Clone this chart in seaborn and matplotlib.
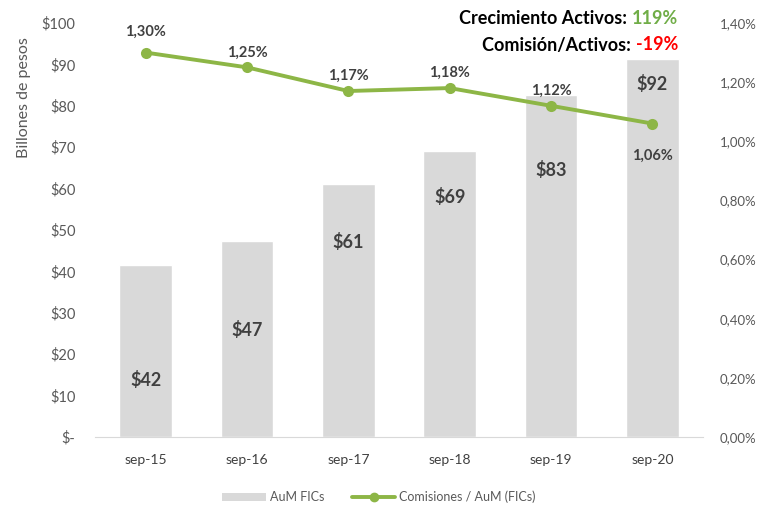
import matplotlib
matplotlib.use('Agg')
import matplotlib.pyplot as plt
import seaborn as sns
import pandas as pd
from matplotlib.patches import Patch
from matplotlib.lines import Line2D

# Data
periods = ['sep-15', 'sep-16', 'sep-17', 'sep-18', 'sep-19', 'sep-20']
aum = [41.5, 47.3, 61.1, 69.1, 82.6, 91.3]
aum_labels = ['$42', '$47', '$61', '$69', '$83', '$92']
aum_label_y = [13.8, 25.8, 47.0, 58.0, 64.5, 85.3]
comision = [1.30, 1.25, 1.17, 1.18, 1.12, 1.06]
comision_labels = ['1,30%', '1,25%', '1,17%', '1,18%', '1,12%', '1,06%']
comision_label_y = [1.37, 1.30, 1.22, 1.23, 1.17, 0.95]

left_ticks = [0, 10, 20, 30, 40, 50, 60, 70, 80, 90, 100]
left_tick_labels = ['$-'] + [f'${v}' for v in left_ticks[1:]]
right_ticks = [0, 0.2, 0.4, 0.6, 0.8, 1.0, 1.2, 1.4]
right_tick_labels = [f'{v:.2f}%'.replace('.', ',') for v in right_ticks]

df = pd.DataFrame({'periodo': periods, 'aum': aum, 'comision': comision})

sns.set_style('white')
plt.rcParams['font.family'] = ['Lato', 'DejaVu Sans']

bar_color = '#D9D9D9'
line_color = '#8DB646'
text_grey = '#595959'
dark = '#404040'

fig = plt.figure(figsize=(7.58, 5.11), dpi=100)
ax = fig.add_axes([95 / 758, 74 / 511, 608 / 758, 414 / 511])

sns.barplot(data=df, x='periodo', y='aum', color=bar_color, width=0.52,
            saturation=1, ax=ax)
ax.set_ylim(0, 100)
ax.set_xlim(-0.5, 5.5)
ax.set_yticks(left_ticks)
ax.set_yticklabels(left_tick_labels)
ax.set_xlabel('')
ax.set_ylabel('Billones de pesos', color=text_grey, fontsize=11.5)
ax.yaxis.set_label_coords(-0.105, 0.82)
ax.tick_params(axis='y', colors=text_grey, labelsize=10.5, length=0, pad=14)
ax.tick_params(axis='x', colors=dark, labelsize=10, length=0, pad=12)
for s in ['top', 'left', 'right']:
    ax.spines[s].set_visible(False)
ax.spines['bottom'].set_color('#D9D9D9')

for i, (lab, y) in enumerate(zip(aum_labels, aum_label_y)):
    ax.text(i, y, lab, ha='center', va='center', fontsize=13,
            fontweight='bold', color=dark)

ax2 = ax.twinx()
sns.lineplot(data=df, x='periodo', y='comision', color=line_color,
             linewidth=2.8, marker='o', markersize=8, markeredgewidth=0,
             ax=ax2)
ax2.set_ylim(0, 1.4)
ax2.set_yticks(right_ticks)
ax2.set_yticklabels(right_tick_labels)
ax2.set_ylabel('')
ax2.tick_params(axis='y', colors=text_grey, labelsize=9.5, length=0, pad=12)
for s in ['top', 'left', 'right', 'bottom']:
    ax2.spines[s].set_visible(False)

for i, (lab, y) in enumerate(zip(comision_labels, comision_label_y)):
    ax2.text(i, y, lab, ha='center', va='center', fontsize=10.5,
             fontweight='bold', color=dark)

# Summary text
fig.text(678 / 758, 1 - 18 / 511, 'Crecimiento Activos: ', ha='right',
         va='center', fontsize=13, fontweight='bold', color='black')
t1 = fig.text(678 / 758, 1 - 18 / 511, '119%', ha='right', va='center',
              fontsize=13, fontweight='bold', color='#70AD47')
fig.canvas.draw()
r = fig.canvas.get_renderer()
w1 = t1.get_window_extent(r).width
fig.texts[0].set_x((678 - w1) / 758)

t2 = fig.text(678 / 758, 1 - 45 / 511, '-19%', ha='right', va='center',
              fontsize=13, fontweight='bold', color='#FF0000')
w2 = t2.get_window_extent(r).width
fig.text((678 - w2) / 758, 1 - 45 / 511, 'Comisión/Activos: ', ha='right',
         va='center', fontsize=13, fontweight='bold', color='black')

handles = [Patch(facecolor=bar_color, edgecolor='none'),
           Line2D([0], [0], color=line_color, linewidth=2.8, marker='o',
                  markersize=6)]
fig.legend(handles, ['AuM FICs', 'Comisiones / AuM (FICs)'],
           loc='center', bbox_to_anchor=(0.5, 1 - 497 / 511), ncol=2,
           frameon=False, fontsize=9, labelcolor=text_grey,
           handlelength=3.5, handletextpad=0.3, columnspacing=2.2)

fig.savefig('out.png', dpi=100)
